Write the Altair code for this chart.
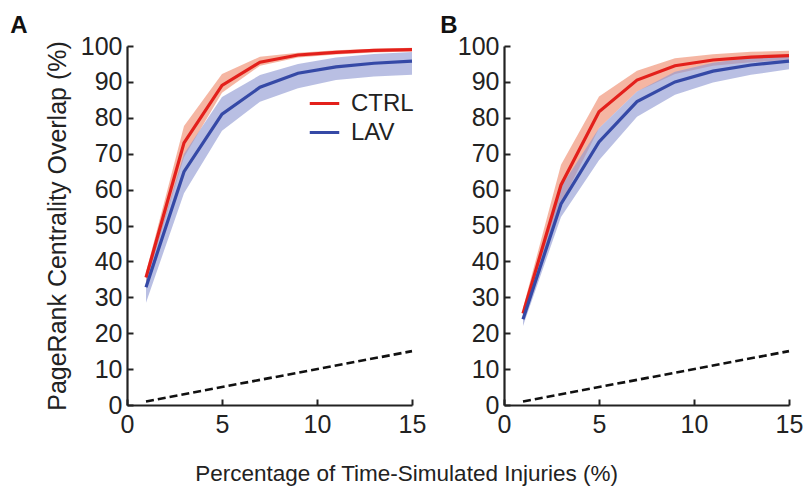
import altair as alt
import pandas as pd

x_vals = [1, 3, 5, 7, 9, 11, 13, 15]
groups = ["CTRL", "LAV"]

# Panel A
a_ctrl = [35.5, 73.0, 89.0, 95.5, 97.5, 98.2, 98.8, 99.0]
a_ctrl_lo = [34.0, 69.0, 87.0, 94.5, 96.8, 97.6, 98.2, 98.5]
a_ctrl_hi = [37.0, 77.7, 92.2, 97.0, 98.1, 98.8, 99.2, 99.5]
a_lav = [32.8, 65.0, 81.0, 88.5, 92.4, 94.2, 95.2, 95.8]
a_lav_lo = [28.5, 59.0, 76.4, 84.5, 88.2, 90.5, 91.5, 92.0]
a_lav_hi = [35.0, 70.0, 85.8, 91.9, 95.0, 96.8, 97.8, 98.3]

# Panel B
b_ctrl = [25.5, 61.3, 81.7, 90.5, 94.5, 96.1, 96.9, 97.3]
b_ctrl_lo = [24.0, 56.0, 77.1, 87.3, 92.2, 94.5, 95.5, 96.1]
b_ctrl_hi = [27.0, 66.9, 85.9, 93.1, 96.6, 97.7, 98.4, 98.7]
b_lav = [23.9, 56.0, 73.3, 84.5, 90.0, 93.0, 94.7, 95.8]
b_lav_lo = [22.0, 52.4, 68.2, 80.3, 86.4, 89.8, 92.0, 93.5]
b_lav_hi = [26.0, 60.8, 77.1, 87.3, 92.8, 95.3, 96.7, 97.5]

# chance line
dash_x = [1, 15]
dash_y = [1, 15]

line_colors = ["#e3201b", "#3549a6"]
band_colors = ["#f09478", "#8e97d2"]
band_opacity = [0.68, 0.62]

W, H = 285, 359
FONT = "Liberation Sans"
Y_TICKS = list(range(0, 101, 10))
X_TICKS = [0, 5, 10, 15]


def panel_df(ctrl, ctrl_lo, ctrl_hi, lav, lav_lo, lav_hi):
    rows = []
    for g, m, lo, hi in [("CTRL", ctrl, ctrl_lo, ctrl_hi), ("LAV", lav, lav_lo, lav_hi)]:
        for xi, mi, l, h in zip(x_vals, m, lo, hi):
            rows.append({"x": xi, "group": g, "mean": mi, "lo": l, "hi": h})
    return pd.DataFrame(rows)


dash_df = pd.DataFrame({"x": dash_x, "y": dash_y})

xscale = alt.Scale(domain=[0, 15], nice=False)
yscale = alt.Scale(domain=[0, 100], nice=False)


def panel(df, label, show_legend, ytitle, title_dx):
    x_ax = alt.Axis(values=X_TICKS, ticks=False, domainWidth=2.2, domainColor="#222",
                    labelFontSize=25, labelColor="#222", labelPadding=7, grid=False,
                    labelFlush=False, labelOverlap=False, title=None)
    if ytitle:
        y_ax = alt.Axis(values=Y_TICKS, ticks=False, domainWidth=2.2, domainColor="#222",
                        labelFontSize=25, labelColor="#222", labelPadding=5, grid=False,
                        labelOverlap=False, title=ytitle, titleFontSize=25, titleFontWeight="normal",
                        titleColor="#222", titlePadding=10)
    else:
        y_ax = alt.Axis(values=Y_TICKS, ticks=False, domainWidth=2.2, domainColor="#222",
                        labelFontSize=25, labelColor="#222", labelPadding=5, grid=False,
                        labelOverlap=False, title=None)
    base = alt.Chart(df)
    bands = []
    for g, bc, op in zip(groups, band_colors, band_opacity):
        bands.append(
            base.transform_filter(alt.datum.group == g).mark_area(opacity=op, color=bc).encode(
                x=alt.X("x:Q", scale=xscale, axis=x_ax),
                y=alt.Y("lo:Q", scale=yscale, axis=y_ax),
                y2="hi:Q",
            )
        )
    if show_legend:
        leg = alt.Legend(orient="none", legendX=181, legendY=41, title=None, symbolType="stroke",
                         symbolSize=870, symbolStrokeWidth=3, labelFontSize=24, labelColor="#222",
                         rowPadding=0, labelOffset=10, labelFont=FONT)
        color = alt.Color("group:N", scale=alt.Scale(domain=groups, range=line_colors), legend=leg)
    else:
        color = alt.Color("group:N", scale=alt.Scale(domain=groups, range=line_colors), legend=None)
    line = base.mark_line(strokeWidth=3.2).encode(
        x=alt.X("x:Q", scale=xscale, axis=x_ax),
        y=alt.Y("mean:Q", scale=yscale, axis=y_ax),
        color=color,
    )
    inner = alt.layer(*bands, line)
    dash = alt.Chart(dash_df).mark_line(color="#111", strokeWidth=2.6, strokeDash=[8, 4]).encode(
        x=alt.X("x:Q", scale=xscale,
                axis=alt.Axis(orient="top", offset=-H, values=X_TICKS, labels=False,
                              domain=False, tickSize=6, tickWidth=2, tickColor="#222", title=None, grid=False)),
        y=alt.Y("y:Q", scale=yscale,
                axis=alt.Axis(orient="right", offset=-W, values=Y_TICKS, labels=False,
                              domain=False, tickSize=6, tickWidth=2, tickColor="#222", title=None, grid=False)),
    )
    return alt.layer(inner, dash).resolve_axis(x="independent", y="independent").properties(
        width=W, height=H,
        title=alt.TitleParams(label, anchor="start", frame="bounds", fontSize=24, fontWeight="bold",
                              color="#111", dx=title_dx, offset=-4),
    )


pa = panel(panel_df(a_ctrl, a_ctrl_lo, a_ctrl_hi, a_lav, a_lav_lo, a_lav_hi), "A", True,
           "PageRank Centrality Overlap (%)", -35)
pb = panel(panel_df(b_ctrl, b_ctrl_lo, b_ctrl_hi, b_lav, b_lav_lo, b_lav_hi), "B", False, None, -17)

chart = alt.hconcat(pa, pb, spacing=14).resolve_scale(color="independent").properties(
    title=alt.TitleParams("Percentage of Time-Simulated Injuries (%)", orient="bottom", anchor="middle",
                          fontSize=22.5, fontWeight="normal", color="#222", offset=26),
).configure(
    font=FONT,
    padding={"left": 2, "top": 6, "right": 0, "bottom": 0},
).configure_view(stroke=None)

chart.save("out.html", embed_options={"renderer": "svg", "actions": False})
